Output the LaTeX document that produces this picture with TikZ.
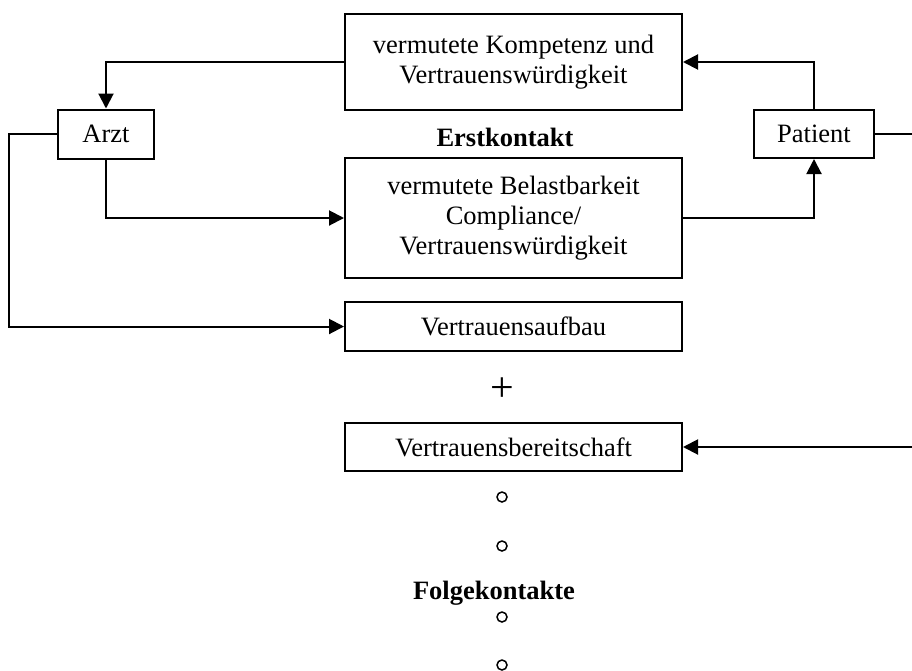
\documentclass[tikz,border=0pt]{standalone}
\usepackage{fontspec}
\setmainfont{Liberation Serif}
\usetikzlibrary{arrows.meta}
\tikzset{
  box/.style={draw, line width=2pt, minimum width=337pt, align=center, inner sep=0pt,
    font=\fontsize{26.5}{30}\selectfont},
  actor/.style={draw, line width=2pt, inner sep=0pt, font=\fontsize{26.5}{30}\selectfont},
  conn/.style={line width=2pt, -{Triangle[length=15pt,width=15pt]}},
  heading/.style={font=\fontsize{26.5}{30}\selectfont\bfseries, inner sep=0pt},
  dot/.style={circle, draw, line width=1.5pt, minimum size=10pt, inner sep=0pt}
}
\begin{document}
\begin{tikzpicture}[x=1pt, y=-1pt]
\useasboundingbox (0,0) rectangle (912,670);

% boxes of the first contact
\node[box, minimum height=96pt] (komp) at (513.5,62)
  {vermutete Kompetenz und\\Vertrauenswürdigkeit};
\node[box, minimum height=120pt] (belast) at (513.5,218)
  {vermutete Belastbarkeit\\Compliance/\\Vertrauenswürdigkeit};
\node[heading] (erst) at (505,137) {Erstkontakt};

% the two parties
\node[actor, minimum width=96pt, minimum height=49pt] (arzt) at (106,134) {Arzt};
\node[actor, minimum width=120pt, minimum height=48pt] (patient) at (814,134) {Patient};

% trust boxes
\node[box, minimum height=49pt] (aufbau) at (513.5,326.5) {Vertrauensaufbau};
\node[font=\fontsize{42}{42}\selectfont, inner sep=0pt] (plus) at (502,390) {+};
\node[box, minimum height=48pt] (bereit) at (513.5,447) {Vertrauensbereitschaft};

% follow-up contacts
\node[dot] (d1) at (502,497) {};
\node[dot] (d2) at (502,546) {};
\node[heading] (folge) at (494,593) {Folgekontakte};
\node[dot] (d3) at (502,617) {};
\node[dot] (d4) at (502,665) {};

% connectors
\coordinate (lk) at (9,134);
\coordinate (rk) at (914,134);
\draw[conn] (komp.west) -| (arzt.north);
\draw[conn] (patient.north) |- (komp.east);
\draw[conn] (arzt.south) |- (belast.west);
\draw[conn] (belast.east) -| (patient.south);
\draw[conn] (arzt.west) -- (lk) |- (aufbau.west);
\draw[conn] (patient.east) -- (rk) |- (bereit.east);
\end{tikzpicture}
\end{document}
